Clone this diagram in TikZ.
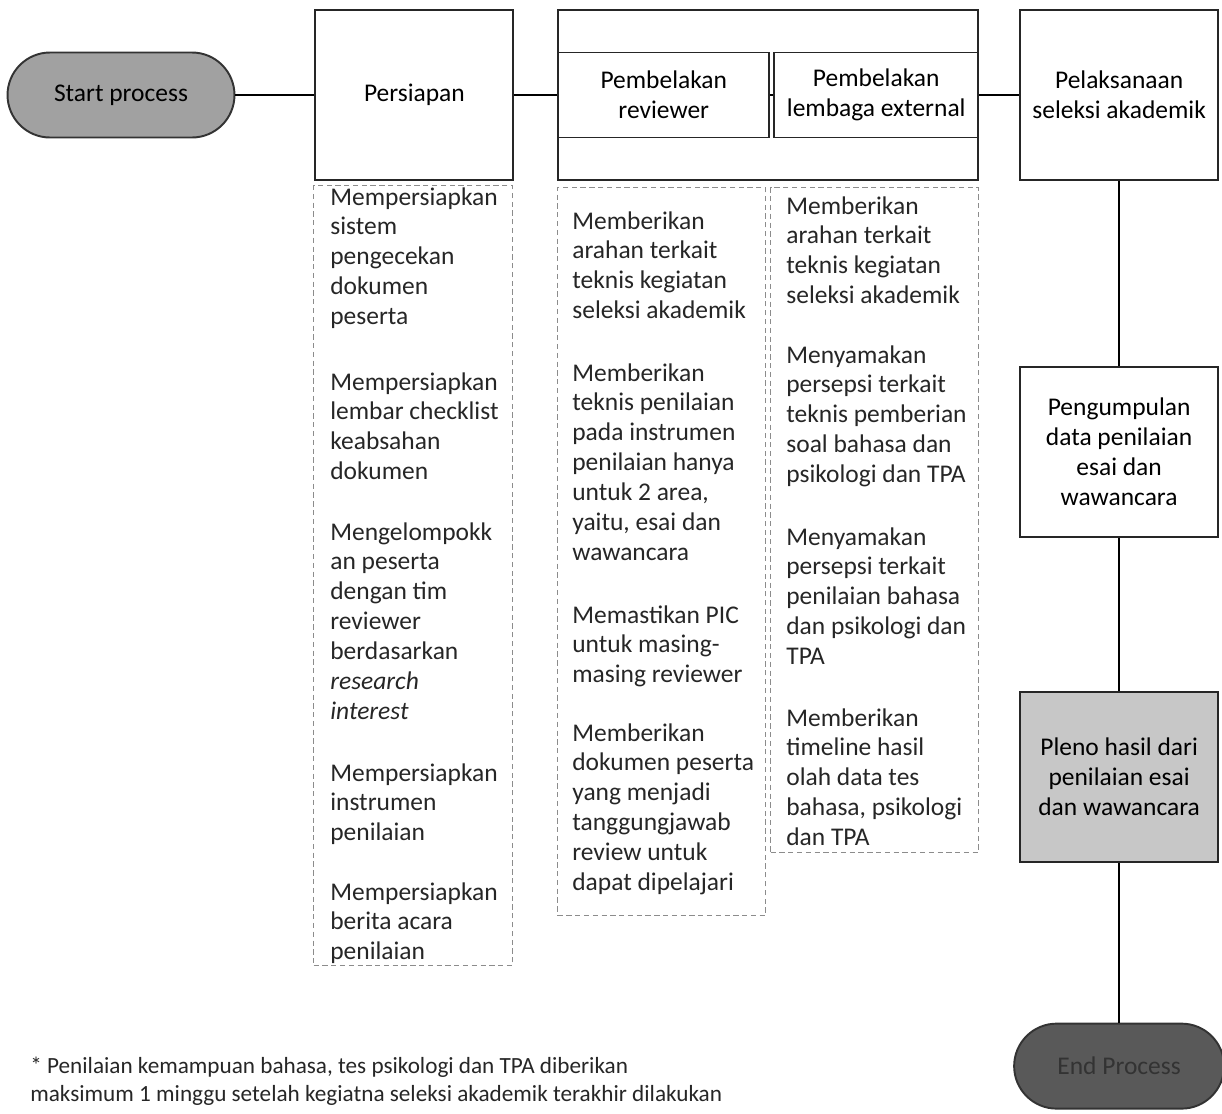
\documentclass[tikz,border=0pt]{standalone}
\usepackage{fontspec}
\setmainfont{Carlito}
\usetikzlibrary{positioning}

\begin{document}
\begin{tikzpicture}[
    x=0.02cm, y=-0.02cm,
    every node/.style={font=\fontsize{14.5}{17}\selectfont},
    pillnode/.style={draw=black!80, line width=1.1pt, rounded corners=0.85cm, minimum width=4.54cm, minimum height=1.7cm},
    boxnode/.style={draw=black!85, line width=1.1pt, minimum width=3.96cm, minimum height=3.4cm, align=center},
    innernode/.style={draw=black!85, line width=1.1pt, minimum height=1.7cm, align=center},
    notenode/.style={draw=black!45, dash pattern=on 3pt off 2pt, line width=0.7pt, anchor=north west, inner sep=0pt},
    itemnode/.style={anchor=north west, inner sep=0pt, align=left, text=black!85},
  ]
  \useasboundingbox (0,0) rectangle (1222,1113);

  % main flow
  \node[pillnode, fill=black!37] (start) at (121,95) {Start process};
  \node[boxnode]        (prep)     [right=1.58cm of start]    {Persiapan};
  \node[boxnode, minimum width=8.4cm] (brief) [right=0.86cm of prep] {};
  \node[innernode, minimum width=4.22cm, anchor=west] (revbrief) at (brief.west) {Pembelakan\\reviewer};
  \node[innernode, minimum width=4.08cm, anchor=east] (extbrief) at (brief.east) {Pembelakan\\lembaga external};
  \node[boxnode]        (exec)     [right=0.8cm of brief]     {Pelaksanaan\\seleksi akademik};
  \node[boxnode]        (collect)  [below=3.7cm of exec]      {Pengumpulan\\data penilaian\\esai dan\\wawancara};
  \node[boxnode, fill=black!22] (plenary) [below=3.06cm of collect] {Pleno hasil dari\\penilaian esai\\dan wawancara};
  \node[pillnode, fill=black!65, text=black!80, minimum width=4.2cm] (finish) [below=3.2cm of plenary] {End Process};

  \draw[line width=1.1pt] (start) -- (prep);
  \draw[line width=1.1pt] (prep) -- (brief);
  \draw[line width=1.1pt] (revbrief) -- (extbrief);
  \draw[line width=1.1pt] (brief) -- (exec);
  \draw[line width=1.1pt] (exec) -- (collect);
  \draw[line width=1.1pt] (collect) -- (plenary);
  \draw[line width=1.1pt] (plenary) -- (finish);

  % dashed note columns
  \node[notenode, minimum width=3.98cm, minimum height=15.6cm]  (prepnotes) at (313,185) {};
  \node[notenode, minimum width=4.16cm, minimum height=14.56cm] (revnotes)  at (557,187) {};
  \node[notenode, minimum width=4.16cm, minimum height=13.3cm]  (extnotes)  at (770,187) {};

  % Persiapan items
  \node[itemnode] (prepA) at (330,187) {Mempersiapkan\\sistem\\pengecekan\\dokumen\\peserta};
  \node[itemnode] (prepB) at (330,372) {Mempersiapkan\\lembar checklist\\keabsahan\\dokumen};
  \node[itemnode] (prepC) at (330,522) {Mengelompokk\\an peserta\\dengan tim\\reviewer\\berdasarkan\\\textit{research}\\\textit{interest}};
  \node[itemnode] (prepD) at (330,763) {Mempersiapkan\\instrumen\\penilaian};
  \node[itemnode] (prepE) at (330,882) {Mempersiapkan\\berita acara\\penilaian};

  % reviewer items
  \node[itemnode] (revA) at (572,211) {Memberikan\\arahan terkait\\teknis kegiatan\\seleksi akademik};
  \node[itemnode] (revB) at (572,363) {Memberikan\\teknis penilaian\\pada instrumen\\penilaian hanya\\untuk 2 area,\\yaitu, esai dan\\wawancara};
  \node[itemnode] (revC) at (572,605) {Memastikan PIC\\untuk masing-\\masing reviewer};
  \node[itemnode] (revD) at (572,723) {Memberikan\\dokumen peserta\\yang menjadi\\tanggungjawab\\review untuk\\dapat dipelajari};

  % external items
  \node[itemnode] (extA) at (786,196) {Memberikan\\arahan terkait\\teknis kegiatan\\seleksi akademik};
  \node[itemnode] (extB) at (786,345) {Menyamakan\\persepsi terkait\\teknis pemberian\\soal bahasa dan\\psikologi dan TPA};
  \node[itemnode] (extC) at (786,527) {Menyamakan\\persepsi terkait\\penilaian bahasa\\dan psikologi dan\\TPA};
  \node[itemnode] (extD) at (786,708) {Memberikan\\timeline hasil\\olah data tes\\bahasa, psikologi\\dan TPA};

  % footnote
  \node[itemnode, font=\fontsize{13.2}{15.5}\selectfont] (note) at (30,1057) {* Penilaian kemampuan bahasa, tes psikologi dan TPA diberikan\\maksimum 1 minggu setelah kegiatna seleksi akademik terakhir dilakukan};
\end{tikzpicture}
\end{document}
